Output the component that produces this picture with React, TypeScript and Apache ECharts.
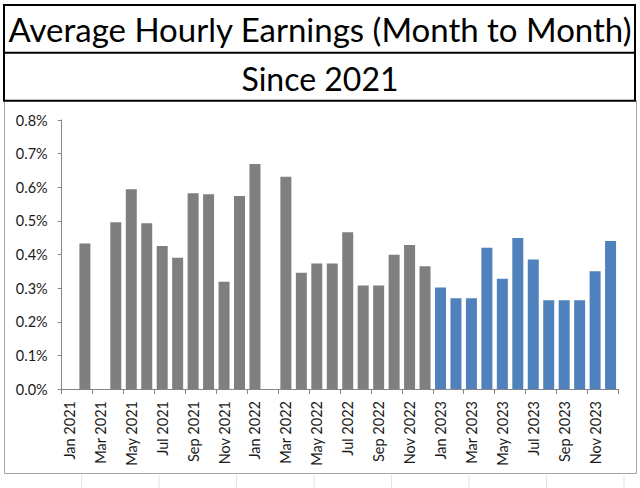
import React, { useEffect, useRef } from "react";
import * as echarts from "echarts";

const months = ["Jan", "Feb", "Mar", "Apr", "May", "Jun", "Jul", "Aug", "Sep", "Oct", "Nov", "Dec"];
const years = [2021, 2022, 2023];
const categories: string[] = [];
years.forEach((y) => months.forEach((m) => categories.push(`${m} ${y}`)));

// Month-to-month change, % (2021–2022, gray)
const earlierValues: (number | null)[] = [
  null, 0.433, null, 0.496, 0.594, 0.493, 0.425, 0.39, 0.582, 0.579, 0.319, 0.574,
  0.669, null, 0.631, 0.346, 0.373, 0.373, 0.466, 0.308, 0.308, 0.399, 0.428, 0.365,
];
// 2023 (blue)
const values2023: number[] = [0.302, 0.27, 0.27, 0.42, 0.328, 0.449, 0.385, 0.264, 0.264, 0.264, 0.35, 0.44];

const yTicks = { min: 0, max: 0.8, interval: 0.1 };
const titleText = "Average Hourly Earnings (Month to Month)";
const subtitleText = "Since 2021";

const FONT = "Lato";

export default function App() {
  const ref = useRef<HTMLDivElement>(null);
  useEffect(() => {
    if (!ref.current) return;
    const chart = echarts.init(ref.current, null, { renderer: "svg" });
    const grayData = [...earlierValues, ...values2023.map(() => null)];
    const blueData = [...earlierValues.map(() => null), ...values2023];
    const sheetLines = [81.7, 159, 236.5, 314, 391.5, 469, 546.5, 624].map((x) => ({
      type: "line",
      shape: { x1: x, y1: 475, x2: x, y2: 488 },
      style: { stroke: "#e3e3e3", lineWidth: 1 },
      silent: true,
    }));
    chart.setOption({
      animation: false,
      backgroundColor: "#ffffff",
      textStyle: { fontFamily: FONT },
      grid: { left: 61.7, right: 21.7, top: 120, bottom: 99 },
      xAxis: {
        type: "category",
        data: categories,
        boundaryGap: true,
        axisLine: { show: true, lineStyle: { color: "#868686", width: 1 } },
        axisTick: { show: true, interval: 1, length: 5, lineStyle: { color: "#868686" } },
        axisLabel: {
          interval: 1,
          rotate: 90,
          margin: 12,
          fontSize: 14.5,
          color: "#1a1a1a",
          fontFamily: FONT,
        },
        splitLine: { show: false },
      },
      yAxis: {
        type: "value",
        min: yTicks.min,
        max: yTicks.max,
        interval: yTicks.interval,
        axisLine: { show: true, lineStyle: { color: "#868686", width: 1 } },
        axisTick: { show: true, length: 4, lineStyle: { color: "#868686" } },
        axisLabel: {
          margin: 14,
          fontSize: 14.5,
          color: "#1a1a1a",
          fontFamily: FONT,
          formatter: (v: number) => v.toFixed(1) + "%",
        },
        splitLine: { show: false },
      },
      series: [
        {
          type: "bar",
          data: grayData,
          barWidth: 11,
          barGap: "-100%",
          itemStyle: { color: "#7f7f7f" },
        },
        {
          type: "bar",
          data: blueData,
          barWidth: 11,
          barGap: "-100%",
          itemStyle: { color: "#4f81bd" },
        },
      ],
      graphic: [
        ...sheetLines,
        {
          type: "rect",
          shape: { x: 4.5, y: 100.5, width: 632, height: 373 },
          style: { fill: "none", stroke: "#a6a6a6", lineWidth: 1 },
          silent: true,
        },
        {
          type: "rect",
          shape: { x: 4, y: 5, width: 631, height: 95.7 },
          style: { fill: "#ffffff", stroke: "#000000", lineWidth: 2 },
          silent: true,
        },
        {
          type: "line",
          shape: { x1: 4, y1: 52.7, x2: 635, y2: 52.7 },
          style: { stroke: "#000000", lineWidth: 2 },
          silent: true,
        },
        {
          type: "text",
          x: 320,
          y: 29,
          style: {
            text: titleText,
            fontFamily: FONT,
            fontSize: 33,
            fill: "#000000",
            align: "center",
            verticalAlign: "middle",
          },
        },
        {
          type: "text",
          x: 320,
          y: 78,
          style: {
            text: subtitleText,
            fontFamily: FONT,
            fontSize: 32,
            fill: "#000000",
            align: "center",
            verticalAlign: "middle",
          },
        },
      ],
    });
    return () => chart.dispose();
  }, []);
  return (
    <div
      ref={ref}
      style={{ position: "fixed", left: 0, top: 0, width: 640, height: 488 }}
    />
  );
}
